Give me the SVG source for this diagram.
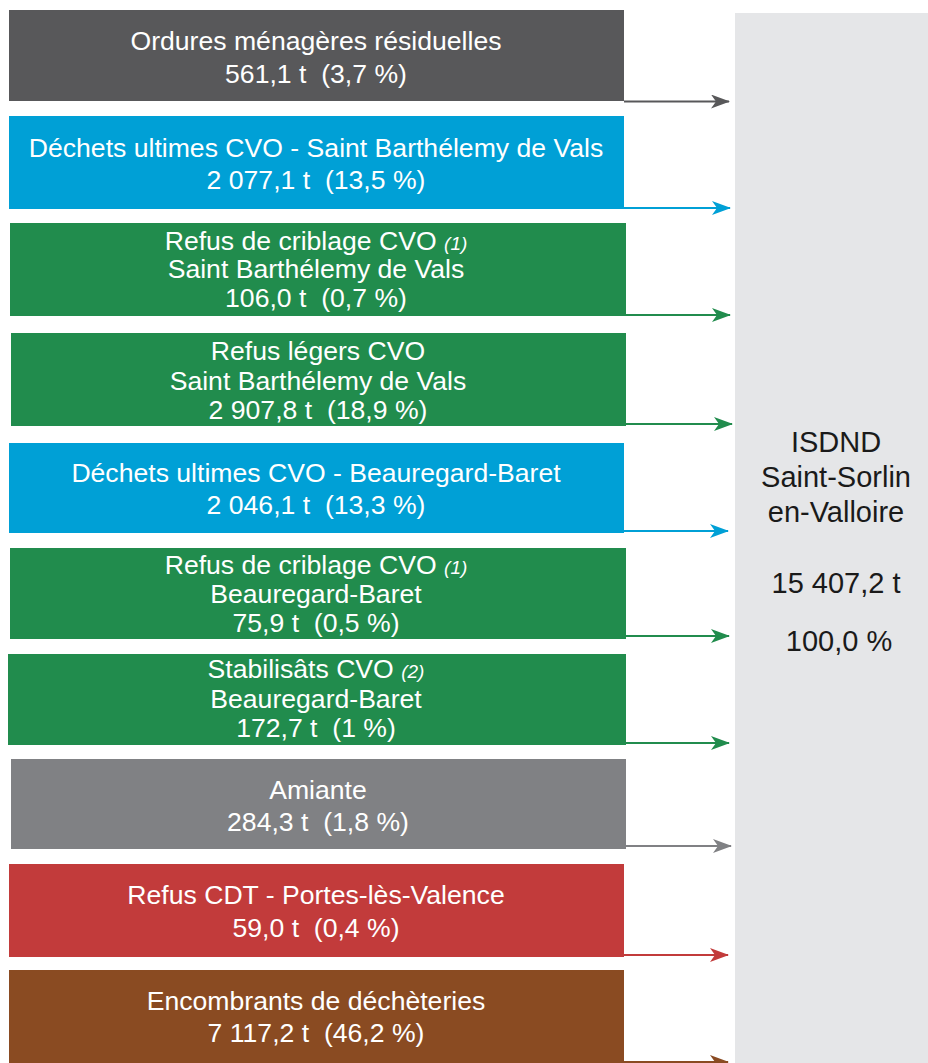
<svg xmlns="http://www.w3.org/2000/svg" width="928" height="1063" viewBox="0 0 928 1063">
<style>
.t{font-family:"Liberation Sans",Arial,sans-serif;font-size:26.6px;fill:#ffffff;text-anchor:middle}
.n{font-style:italic;font-size:19px}
.r{font-family:"Liberation Sans",Arial,sans-serif;font-size:29px;fill:#1a1a1a;text-anchor:middle}
.c{fill:none;stroke-width:2.2}
</style>
<defs>
<marker id="aD" viewBox="0 -7 19 14" refX="18" refY="0" markerWidth="19" markerHeight="14" markerUnits="userSpaceOnUse" orient="auto"><path d="M0,-7 L19,0 L0,7 L5,0 Z" fill="#58585a"/></marker>
<marker id="aB" viewBox="0 -7 19 14" refX="18" refY="0" markerWidth="19" markerHeight="14" markerUnits="userSpaceOnUse" orient="auto"><path d="M0,-7 L19,0 L0,7 L5,0 Z" fill="#00a0d6"/></marker>
<marker id="aG" viewBox="0 -7 19 14" refX="18" refY="0" markerWidth="19" markerHeight="14" markerUnits="userSpaceOnUse" orient="auto"><path d="M0,-7 L19,0 L0,7 L5,0 Z" fill="#218c4d"/></marker>
<marker id="aY" viewBox="0 -7 19 14" refX="18" refY="0" markerWidth="19" markerHeight="14" markerUnits="userSpaceOnUse" orient="auto"><path d="M0,-7 L19,0 L0,7 L5,0 Z" fill="#808184"/></marker>
<marker id="aR" viewBox="0 -7 19 14" refX="18" refY="0" markerWidth="19" markerHeight="14" markerUnits="userSpaceOnUse" orient="auto"><path d="M0,-7 L19,0 L0,7 L5,0 Z" fill="#c23b3b"/></marker>
<marker id="aW" viewBox="0 -7 19 14" refX="18" refY="0" markerWidth="19" markerHeight="14" markerUnits="userSpaceOnUse" orient="auto"><path d="M0,-7 L19,0 L0,7 L5,0 Z" fill="#8a4b22"/></marker>
</defs>
<rect width="928" height="1063" fill="#ffffff"/>

<g id="isdnd">
<rect x="735" y="13" width="193" height="1050" fill="#e5e6e8"/>
<text class="r" x="836" y="452">ISDND</text>
<text class="r" x="836" y="487">Saint-Sorlin</text>
<text class="r" x="836" y="522">en-Valloire</text>
<text class="r" x="836" y="593">15 407,2 t</text>
<text class="r" x="839" y="651">100,0 %</text>
</g>

<g id="connectors">
<line class="c" x1="624" y1="101.5" x2="729" y2="101.5" stroke="#58585a" marker-end="url(#aD)"/>
<line class="c" x1="624" y1="208" x2="730" y2="208" stroke="#00a0d6" marker-end="url(#aB)"/>
<line class="c" x1="626" y1="315" x2="730" y2="315" stroke="#218c4d" marker-end="url(#aG)"/>
<line class="c" x1="626" y1="424" x2="732" y2="424" stroke="#218c4d" marker-end="url(#aG)"/>
<line class="c" x1="624" y1="531" x2="728" y2="531" stroke="#00a0d6" marker-end="url(#aB)"/>
<line class="c" x1="626" y1="636" x2="729" y2="636" stroke="#218c4d" marker-end="url(#aG)"/>
<line class="c" x1="626" y1="743" x2="729" y2="743" stroke="#218c4d" marker-end="url(#aG)"/>
<line class="c" x1="626" y1="846" x2="731" y2="846" stroke="#808184" marker-end="url(#aY)"/>
<line class="c" x1="624" y1="955" x2="728" y2="955" stroke="#c23b3b" marker-end="url(#aR)"/>
<line class="c" x1="624" y1="1062" x2="728" y2="1062" stroke="#8a4b22" marker-end="url(#aW)"/>
</g>

<g id="omr">
<rect x="9" y="10" width="615" height="91" fill="#58585a"/>
<text class="t" x="316" y="49.5">Ordures ménagères résiduelles</text>
<text class="t" x="316" y="83" xml:space="preserve">561,1 t  (3,7 %)</text>
</g>

<g id="du-sbv">
<rect x="9" y="116" width="615" height="93" fill="#00a0d6"/>
<text class="t" x="316" y="157">Déchets ultimes CVO - Saint Barthélemy de Vals</text>
<text class="t" x="316" y="189" xml:space="preserve">2 077,1 t  (13,5 %)</text>
</g>

<g id="rc-sbv">
<rect x="10" y="223" width="616" height="93" fill="#218c4d"/>
<text class="t" x="316" y="250">Refus de criblage CVO <tspan class="n">(1)</tspan></text>
<text class="t" x="316" y="278">Saint Barthélemy de Vals</text>
<text class="t" x="316" y="306.5" xml:space="preserve">106,0 t  (0,7 %)</text>
</g>

<g id="rl-sbv">
<rect x="11" y="333" width="615" height="93" fill="#218c4d"/>
<text class="t" x="318" y="360">Refus légers CVO</text>
<text class="t" x="318" y="390">Saint Barthélemy de Vals</text>
<text class="t" x="318" y="419" xml:space="preserve">2 907,8 t  (18,9 %)</text>
</g>

<g id="du-bb">
<rect x="9" y="443" width="615" height="90" fill="#00a0d6"/>
<text class="t" x="316" y="482">Déchets ultimes CVO - Beauregard-Baret</text>
<text class="t" x="316" y="514" xml:space="preserve">2 046,1 t  (13,3 %)</text>
</g>

<g id="rc-bb">
<rect x="10" y="548" width="616" height="91" fill="#218c4d"/>
<text class="t" x="316" y="574">Refus de criblage CVO <tspan class="n">(1)</tspan></text>
<text class="t" x="316" y="603">Beauregard-Baret</text>
<text class="t" x="316" y="632" xml:space="preserve">75,9 t  (0,5 %)</text>
</g>

<g id="stab-bb">
<rect x="8" y="654" width="618" height="91" fill="#218c4d"/>
<text class="t" x="316" y="678">Stabilisâts CVO <tspan class="n">(2)</tspan></text>
<text class="t" x="316" y="708">Beauregard-Baret</text>
<text class="t" x="316" y="737" xml:space="preserve">172,7 t  (1 %)</text>
</g>

<g id="amiante">
<rect x="11" y="759" width="615" height="90" fill="#808184"/>
<text class="t" x="318" y="799">Amiante</text>
<text class="t" x="318" y="831" xml:space="preserve">284,3 t  (1,8 %)</text>
</g>

<g id="cdt">
<rect x="9" y="864" width="615" height="93" fill="#c23b3b"/>
<text class="t" x="316" y="904">Refus CDT - Portes-lès-Valence</text>
<text class="t" x="316" y="937" xml:space="preserve">59,0 t  (0,4 %)</text>
</g>

<g id="encombrants">
<rect x="9" y="970" width="615" height="93" fill="#8a4b22"/>
<text class="t" x="316" y="1010">Encombrants de déchèteries</text>
<text class="t" x="316" y="1042" xml:space="preserve">7 117,2 t  (46,2 %)</text>
</g>
</svg>
